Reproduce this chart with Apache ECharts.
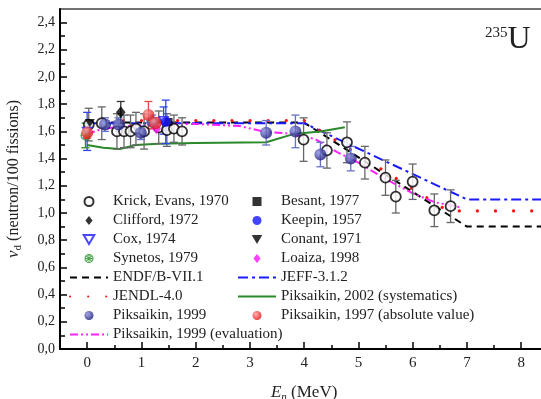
<!DOCTYPE html>
<html>
<head>
<meta charset="utf-8">
<script src="https://cdn.jsdelivr.net/npm/echarts@6/dist/echarts.min.js"></script>
<style>
html, body { margin: 0; padding: 0; background: #fff; }
#chart { width: 541px; height: 399px; }
</style>
</head>
<body>
<div id="chart"></div>
<script>
// Measured delayed-neutron yields: [E (MeV), nu_d, uncertainty]
const krick = [
  [0.03, 1.65, 0.12], [0.27, 1.66, 0.12], [0.55, 1.60, 0.13], [0.68, 1.60, 0.12],
  [0.80, 1.60, 0.12], [0.90, 1.62, 0.12], [1.05, 1.60, 0.13], [1.32, 1.63, 0.12],
  [1.47, 1.61, 0.12], [1.60, 1.62, 0.10], [1.75, 1.60, 0.10],
  [3.99, 1.54, 0.16], [4.42, 1.46, 0.13], [4.79, 1.52, 0.15], [5.12, 1.37, 0.12],
  [5.50, 1.26, 0.13], [5.69, 1.12, 0.12], [6.00, 1.23, 0.13], [6.40, 1.02, 0.12],
  [6.70, 1.05, 0.12]
];
const clifford = [[0.62, 1.74, 0.08]];
const cox = [[0.00, 1.60, 0.14], [1.41, 1.68, 0.10]];
const synetos = [[-0.03, 1.57, 0.09]];
const besant = [[1.50, 1.67, 0.06]];
const keepin = [[1.45, 1.67, 0.16]];
const conant = [[0.05, 1.66, 0.06]];
const loaiza = [[1.28, 1.62, 0.05]];
const piks1999 = [
  [0.33, 1.65, 0.05], [0.58, 1.65, 0.05], [0.99, 1.59, 0.05], [1.20, 1.67, 0.05],
  [3.30, 1.59, 0.09], [3.84, 1.60, 0.12], [4.30, 1.43, 0.09], [4.86, 1.40, 0.09]
];
const piks1997 = [[0.00, 1.59, 0.04], [1.13, 1.72, 0.10], [1.26, 1.66, 0.04]];

// Evaluated libraries and systematics: energies (MeV) and nu_d
const endfE = [0, 4.0, 7.0, 8.5];
const endfV = [1.665, 1.665, 0.90, 0.90];
const jeffE = [0, 4.0, 7.0, 8.5];
const jeffV = [1.66, 1.66, 1.10, 1.10];
const jendlE = [0, 4.0, 6.65, 8.5];
const jendlV = [1.68, 1.68, 1.015, 1.015];
const sysE = [0, 0.3, 0.6, 0.9, 1.3, 2.0, 3.3, 3.8, 4.3, 4.75];
const sysV = [1.50, 1.48, 1.47, 1.50, 1.51, 1.515, 1.52, 1.58, 1.60, 1.63];
const evalE = [0, 0.25, 0.6, 1.0, 1.5, 2.0, 2.8, 3.3, 3.7, 4.2, 4.6, 5.0, 5.5, 6.0, 6.4, 6.9];
const evalV = [1.58, 1.615, 1.635, 1.645, 1.65, 1.655, 1.64, 1.595, 1.585, 1.545, 1.45, 1.37, 1.25, 1.145, 1.08, 1.04];

// Axis ticks
const xMajor = [0, 1, 2, 3, 4, 5, 6, 7, 8];
const xMinor = [-0.5, 0.5, 1.5, 2.5, 3.5, 4.5, 5.5, 6.5, 7.5];
const yMajor = [0, 0.2, 0.4, 0.6, 0.8, 1.0, 1.2, 1.4, 1.6, 1.8, 2.0, 2.2, 2.4];
const yMinor = [0.1, 0.3, 0.5, 0.7, 0.9, 1.1, 1.3, 1.5, 1.7, 1.9, 2.1, 2.3];

const FONT = 'Liberation Serif';
const chart = echarts.init(document.getElementById('chart'));

function pts(arr) { return arr.map(d => [d[0], d[1]]); }
function bars(arr) { return arr.map(d => [d[0], d[1] - d[2], d[1] + d[2]]); }
function zip(xs, ys) { return xs.map((x, i) => [x, ys[i]]); }

function errorSeries(arr, color) {
  return {
    type: 'custom',
    silent: true,
    z: 3,
    data: bars(arr),
    encode: { x: 0, y: [1, 2] },
    renderItem: function (params, api) {
      const lo = api.coord([api.value(0), api.value(1)]);
      const hi = api.coord([api.value(0), api.value(2)]);
      const w = 4;
      const st = { stroke: color, lineWidth: 1.3, fill: null };
      return {
        type: 'group',
        children: [
          { type: 'line', shape: { x1: lo[0], y1: lo[1], x2: hi[0], y2: hi[1] }, style: st },
          { type: 'line', shape: { x1: lo[0] - w, y1: lo[1], x2: lo[0] + w, y2: lo[1] }, style: st },
          { type: 'line', shape: { x1: hi[0] - w, y1: hi[1], x2: hi[0] + w, y2: hi[1] }, style: st }
        ]
      };
    }
  };
}

function ball(light, dark) {
  return {
    type: 'radial', x: 0.35, y: 0.35, r: 0.75,
    colorStops: [{ offset: 0, color: light }, { offset: 1, color: dark }]
  };
}

// Marker outlines as paths so the legend keeps their aspect ratio
const P_CIRCLE = 'path://M0,-10A10,10 0 1,1 0,10A10,10 0 1,1 0,-10Z';
const P_DIAMOND = 'path://M0,-10L8,0L0,10L-8,0Z';
const P_TRI_DOWN = 'path://M-10,-8L10,-8L0,9Z';
const P_SQUARE = 'path://M-8,-8L8,-8L8,8L-8,8Z';
const P_HATCH = 'path://M0,-10A10,10 0 1,1 0,10A10,10 0 1,1 0,-10Z' +
  'M0,-7.5A7.5,7.5 0 1,0 0,7.5A7.5,7.5 0 1,0 0,-7.5Z' +
  'M-7,-5.5L-5.5,-7L7,5.5L5.5,7Z M5.5,-7L7,-5.5L-5.5,7L-7,5.5Z' +
  'M-8,-1L8,-1L8,1L-8,1Z M-1,-8L1,-8L1,8L-1,8Z';

function scatter(name, arr, symbol, size, itemStyle) {
  return {
    name: name, type: 'scatter', data: pts(arr), symbol: symbol,
    symbolSize: size, symbolKeepAspect: true, itemStyle: itemStyle, z: 5
  };
}

function line(name, xs, ys, lineStyle) {
  return {
    name: name, type: 'line', data: zip(xs, ys), symbol: 'none', showSymbol: false,
    lineStyle: lineStyle, itemStyle: { color: lineStyle.color }, z: 2
  };
}

const series = [
  line('ENDF/B-VII.1', endfE, endfV, { color: '#000', width: 2, type: [7, 5] }),
  line('JEFF-3.1.2', jeffE, jeffV, { color: '#1a1aff', width: 2, type: [10, 4, 3, 4] }),
  line('JENDL-4.0', jendlE, jendlV, { color: '#ff1010', width: 3.2, type: [0.1, 18], cap: 'round' }),
  line('Piksaikin, 2002 (systematics)', sysE, sysV, { color: '#2a8a2a', width: 2 }),
  line('Piksaikin, 1999 (evaluation)', evalE, evalV, { color: '#ff22ff', width: 2, type: [8, 3, 2, 3, 2, 3] }),

  errorSeries(krick, '#666'),
  errorSeries(clifford, '#333'),
  errorSeries(cox, '#3344ee'),
  errorSeries(synetos, '#2a8a2a'),
  errorSeries(keepin, '#3344ee'),
  errorSeries(piks1999, '#6670c8'),
  errorSeries(piks1997, '#ee4444'),

  scatter('Krick, Evans, 1970', krick, P_CIRCLE, 10,
    { color: '#fff', borderColor: '#000', borderWidth: 1.8 }),
  scatter('Clifford, 1972', clifford, P_DIAMOND, 12, { color: '#000' }),
  scatter('Cox, 1974', cox, P_TRI_DOWN, 9,
    { color: '#fff', borderColor: '#1a1aff', borderWidth: 1.6 }),
  scatter('Synetos, 1979', synetos, P_HATCH, 10, { color: '#1f8f1f' }),
  scatter('Besant, 1977', besant, P_SQUARE, 8, { color: '#000' }),
  scatter('Keepin, 1957', keepin, P_CIRCLE, 10, { color: '#1515ff' }),
  scatter('Conant, 1971', conant, P_TRI_DOWN, 10, { color: '#000' }),
  scatter('Loaiza, 1998', loaiza, P_DIAMOND, 11, { color: '#ff10ff' }),
  scatter('Piksaikin, 1999', piks1999, P_CIRCLE, 12, { color: ball('#8a90e0', '#0c0c6e') }),
  scatter('Piksaikin, 1997 (absolute value)', piks1997, P_CIRCLE, 12, { color: ball('#ff9a9a', '#e00000') })
];

const lineNames = ['ENDF/B-VII.1', 'JEFF-3.1.2', 'JENDL-4.0',
  'Piksaikin, 2002 (systematics)', 'Piksaikin, 1999 (evaluation)'];
function legendItems(names) {
  return names.map(n => lineNames.indexOf(n) >= 0
    ? { name: n, itemStyle: { opacity: 0, color: 'transparent', borderWidth: 0 } }
    : { name: n });
}

const legendBase = {
  orient: 'vertical', top: 192, itemWidth: 38, itemHeight: 9, itemGap: 0, padding: 0,
  selectedMode: false, symbolKeepAspect: true,
  textStyle: { fontFamily: FONT, fontSize: 15, color: '#222', lineHeight: 19 }
};

const option = {
  animation: false,
  backgroundColor: '#fff',
  grid: {
    left: 60, top: 9, bottom: 50, right: -7.25, outerBoundsMode: 'none', containLabel: false,
    show: true, borderColor: '#444', borderWidth: 1.5, backgroundColor: 'transparent'
  },
  legend: [
    Object.assign({}, legendBase, {
      left: 69,
      data: legendItems(['Krick, Evans, 1970', 'Clifford, 1972', 'Cox, 1974', 'Synetos, 1979',
        'ENDF/B-VII.1', 'JENDL-4.0', 'Piksaikin, 1999', 'Piksaikin, 1999 (evaluation)'])
    }),
    Object.assign({}, legendBase, {
      left: 237,
      data: legendItems(['Besant, 1977', 'Keepin, 1957', 'Conant, 1971', 'Loaiza, 1998',
        'JEFF-3.1.2', 'Piksaikin, 2002 (systematics)', 'Piksaikin, 1997 (absolute value)'])
    })
  ],
  xAxis: [{
    type: 'value', min: -0.5, max: 8.5, position: 'bottom',
    name: '{i|E}{s|n} (MeV)', nameLocation: 'middle', nameGap: 33,
    nameTextStyle: {
      fontFamily: FONT, fontSize: 17, color: '#222',
      rich: {
        i: { fontFamily: FONT, fontSize: 17, fontStyle: 'italic', color: '#222' },
        s: { fontFamily: FONT, fontSize: 11, fontStyle: 'italic', color: '#222', padding: [10, 0, 0, 0] }
      }
    },
    axisLine: { show: true, onZero: false, lineStyle: { color: '#000', width: 2 } },
    axisTick: { show: true, inside: true, length: 7, customValues: xMajor, lineStyle: { color: '#000', width: 1.5 } },
    axisLabel: { customValues: xMajor, fontFamily: FONT, fontSize: 15, color: '#222', margin: 7 },
    splitLine: { show: false }
  }, {
    type: 'value', min: -0.5, max: 8.5, position: 'bottom',
    axisLine: { show: false, onZero: false },
    axisTick: { show: true, inside: true, length: 4, customValues: xMinor, lineStyle: { color: '#000', width: 1.5 } },
    axisLabel: { show: false },
    splitLine: { show: false }
  }],
  yAxis: [{
    type: 'value', min: 0, max: 2.5, position: 'left',
    name: '{i|v}{s|d} (neutron/100 fissions)', nameLocation: 'middle', nameGap: 36,
    nameTextStyle: {
      fontFamily: FONT, fontSize: 16, color: '#222',
      rich: {
        i: { fontFamily: FONT, fontSize: 17, fontStyle: 'italic', color: '#222' },
        s: { fontFamily: FONT, fontSize: 11, color: '#222', padding: [10, 0, 0, 0] }
      }
    },
    axisLine: { show: true, onZero: false, lineStyle: { color: '#000', width: 2 } },
    axisTick: { show: true, inside: true, length: 7, customValues: yMajor, lineStyle: { color: '#000', width: 1.5 } },
    axisLabel: {
      customValues: yMajor, fontFamily: FONT, fontSize: 14, color: '#222', margin: 5,
      formatter: v => v.toFixed(1).replace('.', ',')
    },
    splitLine: { show: false }
  }, {
    type: 'value', min: 0, max: 2.5, position: 'left',
    axisLine: { show: false, onZero: false },
    axisTick: { show: true, inside: true, length: 5, customValues: yMinor, lineStyle: { color: '#000', width: 1.5 } },
    axisLabel: { show: false },
    splitLine: { show: false }
  }],
  graphic: [{
    type: 'text', left: 485, top: 24, z: 10,
    style: {
      text: '{a|235}{b|U}',
      rich: {
        a: { fontFamily: FONT, fontSize: 15, fill: '#222', padding: [0, 0, 13, 0] },
        b: { fontFamily: FONT, fontSize: 32, fill: '#222' }
      }
    }
  }],
  series: series
};

chart.setOption(option);
</script>
</body>
</html>
